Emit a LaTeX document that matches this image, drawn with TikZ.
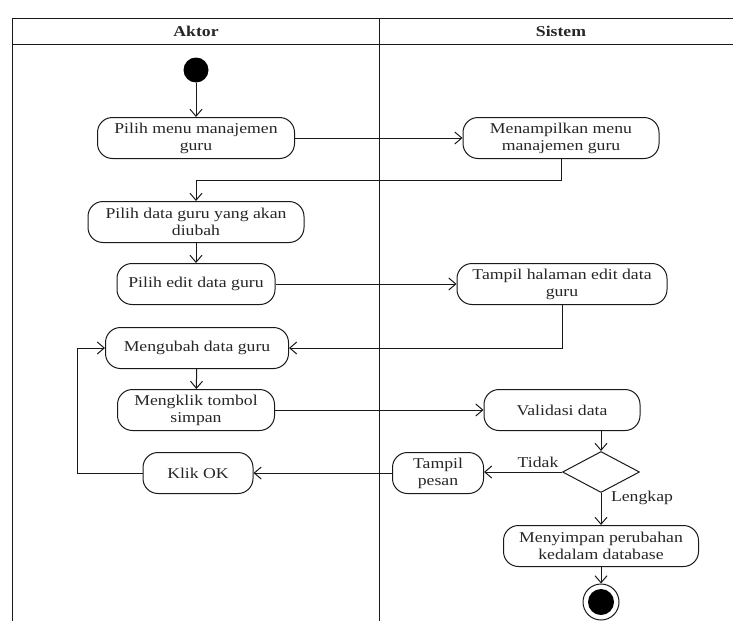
\documentclass[tikz,border=0pt]{standalone}
\usepackage{fontspec}
\setmainfont[FakeStretch=1.18]{Liberation Serif}
\usetikzlibrary{arrows.meta,shapes.geometric}
\begin{document}
\begin{tikzpicture}[x=1pt,y=-1pt,
  txt/.style={font=\fontsize{15}{17}\selectfont, text=black!85, align=center, inner sep=0pt},
  act/.style={txt, draw=black!90, line width=1pt, rounded corners=15pt, minimum height=41pt},
  lane/.style={draw=black!90, line width=1pt},
  arr/.style={draw=black!90, line width=1pt, -{Straight Barb[length=7pt,width=12pt,line width=1pt]}},
  decision/.style={draw=black!90, line width=1pt, diamond, aspect=1.88, minimum width=77pt, minimum height=41pt, inner sep=0pt},
]
\useasboundingbox (0,0) rectangle (733,621);

% swimlanes
\draw[lane] (12,621) -- (12,18) -- (733,18);
\draw[lane] (12,44) -- (733,44);
\draw[lane] (379,18) -- (379,621);
\node[txt, font=\fontsize{15}{17}\selectfont\bfseries] (hAktor) at (196,31) {Aktor};
\node[txt, font=\fontsize{15}{17}\selectfont\bfseries] (hSistem) at (561,31) {Sistem};

% actor lane
\node[circle, fill=black, minimum size=25pt, inner sep=0pt] (start) at (196,70) {};
\node[act, minimum width=197pt] (pmenu) at (196,138) {Pilih menu manajemen\\guru};
\node[act, minimum width=216pt] (pdata) at (196,222) {Pilih data guru yang akan\\diubah};
\node[act, minimum width=158pt] (pedit) at (196,284) {Pilih edit data guru};
\node[act, minimum width=183pt] (ubah) at (197,348) {Mengubah data guru};
\node[act, minimum width=157pt] (klik) at (196,410) {Mengklik tombol\\simpan};
\node[act, minimum width=110pt] (ok) at (198,473) {Klik OK};

% system lane
\node[act, minimum width=196pt] (smenu) at (561,138) {Menampilkan menu\\manajemen guru};
\node[act, minimum width=210pt] (shal) at (562,284) {Tampil halaman edit data\\guru};
\node[act, minimum width=156pt] (valid) at (562,410) {Validasi data};
\node[decision] (dec) at (601,472) {};
\node[act, minimum width=91pt] (pesan) at (438,473) {Tampil\\pesan};
\node[act, minimum width=195pt] (simpan) at (601,546) {Menyimpan perubahan\\kedalam database};
\node[circle, draw=black!90, line width=1pt, minimum size=36pt, inner sep=0pt] (end) at (601,602) {};
\node[circle, fill=black, minimum size=26pt, inner sep=0pt] (endin) at (601,602) {};

% flows
\draw[arr] (start) -- (pmenu);
\draw[arr] (pmenu) -- (smenu);
\draw[arr] (smenu.south) -- ++(0,21) -| (pdata.north);
\draw[arr] (pdata) -- (pedit);
\draw[arr] (pedit) -- (shal);
\draw[arr] (shal.south) |- (ubah.east);
\draw[arr] (ubah) -- (klik);
\draw[arr] (klik) -- (valid);
\draw[arr] (valid.south -| dec.north) -- (dec.north);
\draw[arr] (dec.west) -- (pesan.east |- dec.west);
\draw[arr] (dec.south) -- (simpan.north);
\draw[arr] (pesan.west) -- (ok.east);
\draw[arr] (ok.west) -- ++(-65,0) |- (ubah.west);
\draw[arr] (simpan.south) -- (end.north);

% guard labels
\node[txt] (lTidak) at (538,462) {Tidak};
\node[txt] (lLengkap) at (642,498) {Lengkap};
\end{tikzpicture}
\end{document}
